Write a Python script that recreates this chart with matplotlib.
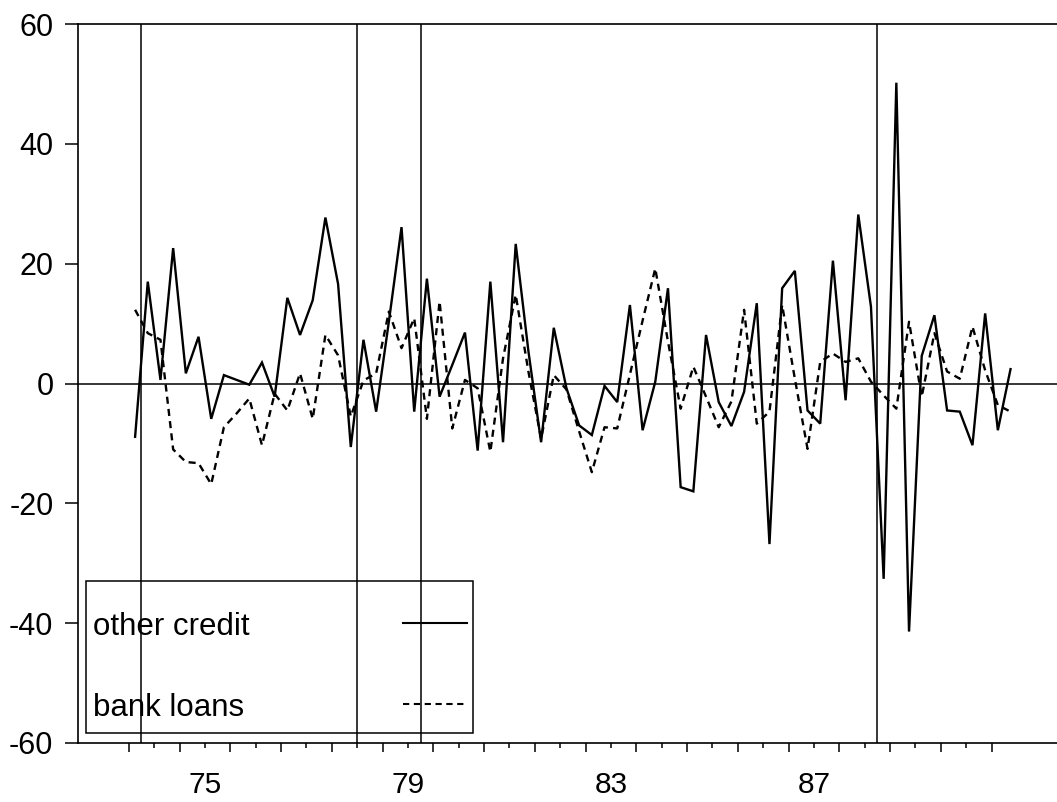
import numpy as np
import matplotlib
matplotlib.use("Agg")
import matplotlib.pyplot as plt
from matplotlib.ticker import FixedLocator, NullFormatter, FixedFormatter
from matplotlib.patches import Rectangle

plt.rcParams['font.family'] = ['Liberation Sans', 'DejaVu Sans']
plt.rcParams['axes.unicode_minus'] = False

# ---- data (quarterly, 1974Q1 .. 1991Q2) ----
start_year = 1974
n_quarters = 70
other_credit = [
    -8.9, 17.0, 0.6, 22.6, 1.7, 7.8, -5.9, 1.4, 0.6, -0.2,
    3.5, -2.2, 14.3, 8.1, 13.9, 27.7, 16.6, -10.6, 7.3, -4.7,
    10.3, 26.1, -4.7, 17.5, -2.2, 3.1, 8.5, -11.2, 17.0, -9.8,
    23.3, 5.4, -9.8, 9.3, -0.8, -7.0, -8.6, -0.4, -3.1, 13.1,
    -7.8, 0.3, 15.9, -17.3, -18.0, 8.1, -3.1, -7.1, -1.4, 13.4,
    -26.8, 15.9, 18.8, -4.5, -6.7, 20.5, -2.8, 28.2, 12.8, -32.6,
    50.2, -41.4, 4.6, 11.4, -4.5, -4.7, -10.3, 11.7, -7.8, 2.4,
]
bank_loans = [
    12.3, 8.4, 7.3, -11.0, -13.1, -13.3, -16.8, -7.3, -5.0, -2.5,
    -10.3, -1.7, -4.5, 1.7, -5.9, 8.1, 4.7, -5.5, 0.5, 1.7,
    12.0, 5.9, 10.9, -5.9, 13.7, -7.5, 0.6, -0.8, -11.4, 4.2,
    14.8, 2.0, -9.2, 1.4, -1.0, -8.0, -14.8, -7.3, -7.5, 1.5,
    10.5, 19.2, 7.0, -4.2, 2.8, -2.2, -7.3, -3.0, 12.3, -6.7,
    -4.7, 13.1, 0.8, -10.9, 3.6, 5.0, 3.6, 4.2, 0.3, -2.0,
    -4.2, 10.3, -2.2, 8.4, 2.0, 0.8, 9.5, 2.2, -3.6, -4.7,
]
event_lines = [1974.25, 1978.5, 1979.75, 1988.75]
year_labels = ['75', '79', '83', '87']
label_years = [1975, 1979, 1983, 1987]
legend_labels = ['other credit', 'bank loans']

quarter_idx = np.arange(n_quarters)
x = start_year + (quarter_idx + 0.5) / 4.0

W, H = 1057, 802
fig = plt.figure(figsize=(W / 100, H / 100), dpi=100)
ax = fig.add_axes([78 / W, 1 - 743 / H, 979 / W, 719 / H])

ax.set_xlim(1973.0, 1973.0 + 979 / 50.75)
ax.set_ylim(-60, 60)

ax.axhline(0, color='black', lw=1.1, zorder=1)
for v in event_lines:
    ax.axvline(v, color='black', lw=1.1, zorder=1)

dash = (0, (3.0, 2.2))
ax.plot(x, other_credit, color='black', lw=1.7, solid_joinstyle='miter', zorder=3)
ax.plot(x, bank_loans, color='black', lw=1.7, linestyle=dash, zorder=3)

# spines
ax.spines['right'].set_visible(False)
for s in ['left', 'top', 'bottom']:
    ax.spines[s].set_linewidth(1.2)

# y ticks
ax.set_yticks([-60, -40, -20, 0, 20, 40, 60])
ax.tick_params(axis='y', direction='out', length=9.2, width=1.1, pad=8.5,
               labelsize=22)

# x ticks: majors at year boundaries, minors at mid-year
ax.xaxis.set_major_locator(FixedLocator(np.arange(1974, 1992)))
ax.xaxis.set_major_formatter(NullFormatter())
minor_locs = [y + 0.5 for y in label_years] + [y + 0.5 for y in range(1974, 1991) if y not in label_years]
ax.xaxis.set_minor_locator(FixedLocator(minor_locs))
ax.xaxis.set_minor_formatter(FixedFormatter(year_labels + [''] * (len(minor_locs) - len(year_labels))))
ax.tick_params(axis='x', which='major', direction='out', length=6.5, width=1.1)
ax.tick_params(axis='x', which='minor', direction='out', length=3.6, width=1.1,
               pad=16.5, labelsize=21.5)

# legend box drawn manually (transparent, event lines show through)
ax.add_patch(Rectangle((0.0079, 0.0139), 0.3956, 0.2114, transform=ax.transAxes,
                       facecolor='none', edgecolor='black', lw=1.1, zorder=4))
ax.text(0.0153, 0.150, legend_labels[0], transform=ax.transAxes, fontsize=22.5,
        va='baseline', ha='left', zorder=5)
ax.text(0.0153, 0.0376, legend_labels[1], transform=ax.transAxes, fontsize=22.5,
        va='baseline', ha='left', zorder=5)
ax.plot([0.3323, 0.3971], [0.1674, 0.1674], transform=ax.transAxes, color='black',
        lw=1.5, zorder=5)
ax.plot([0.3323, 0.3971], [0.0542, 0.0542], transform=ax.transAxes, color='black',
        lw=1.5, linestyle=dash, zorder=5)

fig.savefig('out.png', dpi=100)
